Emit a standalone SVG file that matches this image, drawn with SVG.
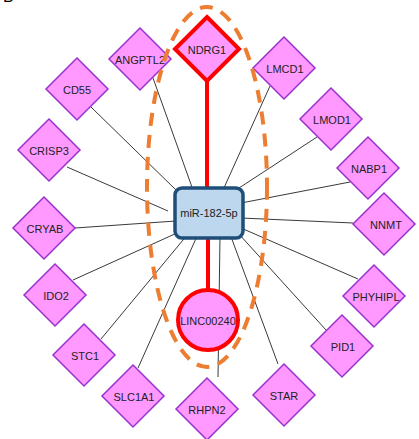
<svg xmlns="http://www.w3.org/2000/svg" width="419" height="439" viewBox="0 0 419 439">
  <style>
    .edge { stroke: #3a3a3a; stroke-width: 1; fill: none; }
    .hub-edge { stroke: #ff0000; stroke-width: 4; fill: none; }
    .target { fill: #ff99ff; stroke: #9932cc; stroke-width: 1.5; }
    .key { fill: #ff99ff; stroke: #ff0000; stroke-width: 4; }
    .label { font-family: "Liberation Sans", Arial, sans-serif; font-size: 11px; fill: #222; text-anchor: middle; dominant-baseline: central; }
    .group-ring { fill: none; stroke: #ed7d31; stroke-width: 4; stroke-dasharray: 13 9; }
  </style>
  <defs>
    <polygon id="diamond" points="0,-31 31,0 0,31 -31,0"/>
  </defs>
  <rect width="419" height="439" fill="#ffffff"/>
  <text x="3" y="2" font-family="Liberation Sans, Arial, sans-serif" font-size="16" fill="#000">B</text>

  <g id="edges">
    <line class="edge" x1="91" y1="107" x2="176" y2="190"/>
    <line class="edge" x1="153" y1="78" x2="193" y2="190"/>
    <line class="edge" x1="270" y1="86" x2="223" y2="190"/>
    <line class="edge" x1="317" y1="137" x2="236" y2="190"/>
    <line class="edge" x1="350" y1="182" x2="241" y2="203"/>
    <line class="edge" x1="353" y1="223" x2="241" y2="218"/>
    <line class="edge" x1="358" y1="279" x2="241" y2="228"/>
    <line class="edge" x1="326" y1="330" x2="238" y2="233"/>
    <line class="edge" x1="278" y1="364" x2="230" y2="234"/>
    <line class="edge" x1="218" y1="377" x2="220" y2="236"/>
    <line class="edge" x1="138" y1="368" x2="198" y2="234"/>
    <line class="edge" x1="101" y1="339" x2="188" y2="234"/>
    <line class="edge" x1="73" y1="280" x2="177" y2="233"/>
    <line class="edge" x1="75" y1="228" x2="176" y2="221"/>
    <line class="edge" x1="67" y1="167" x2="168" y2="211"/>
    <line class="hub-edge" x1="207" y1="80" x2="207" y2="190"/>
    <line class="hub-edge" x1="208" y1="236" x2="208" y2="290"/>
  </g>

  <g id="mir-182-5p">
    <rect x="175" y="188" width="68" height="50" rx="7" fill="#bdd7ee" stroke="#1f4e79" stroke-width="3.5"/>
    <text class="label" x="209" y="213">miR-182-5p</text>
  </g>

  <g id="ndrg1">
    <polygon class="key" points="207,17 239,49 207,81 175,49"/>
    <text class="label" x="207" y="50">NDRG1</text>
  </g>

  <g id="linc00240">
    <circle class="key" cx="208" cy="320" r="30"/>
    <text class="label" x="208" y="321">LINC00240</text>
  </g>

  <g id="angptl2"><use href="#diamond" class="target" x="140" y="59"/><text class="label" x="140" y="60">ANGPTL2</text></g>
  <g id="cd55"><use href="#diamond" class="target" x="77" y="89"/><text class="label" x="77" y="90">CD55</text></g>
  <g id="crisp3"><use href="#diamond" class="target" x="49" y="150"/><text class="label" x="49" y="151">CRISP3</text></g>
  <g id="cryab"><use href="#diamond" class="target" x="44" y="228"/><text class="label" x="45" y="229">CRYAB</text></g>
  <g id="ido2"><use href="#diamond" class="target" x="55" y="295"/><text class="label" x="56" y="296">IDO2</text></g>
  <g id="stc1"><use href="#diamond" class="target" x="84" y="355"/><text class="label" x="85" y="356">STC1</text></g>
  <g id="slc1a1"><use href="#diamond" class="target" x="133" y="396"/><text class="label" x="134" y="397">SLC1A1</text></g>
  <g id="rhpn2"><use href="#diamond" class="target" x="207" y="409"/><text class="label" x="207" y="410">RHPN2</text></g>
  <g id="star"><use href="#diamond" class="target" x="284" y="395"/><text class="label" x="284" y="396">STAR</text></g>
  <g id="pid1"><use href="#diamond" class="target" x="342" y="346"/><text class="label" x="343" y="347">PID1</text></g>
  <g id="phyhipl"><use href="#diamond" class="target" x="374" y="296"/><text class="label" x="376" y="297">PHYHIPL</text></g>
  <g id="nnmt"><use href="#diamond" class="target" x="384" y="224"/><text class="label" x="386" y="225">NNMT</text></g>
  <g id="nabp1"><use href="#diamond" class="target" x="368" y="168"/><text class="label" x="369" y="169">NABP1</text></g>
  <g id="lmod1"><use href="#diamond" class="target" x="331" y="119"/><text class="label" x="332" y="120">LMOD1</text></g>
  <g id="lmcd1"><use href="#diamond" class="target" x="284" y="68"/><text class="label" x="285" y="69">LMCD1</text></g>

  <!-- dashed outline grouping the miRNA with its two key partners -->
  <ellipse class="group-ring" cx="207" cy="187" rx="60" ry="180"/>
</svg>
